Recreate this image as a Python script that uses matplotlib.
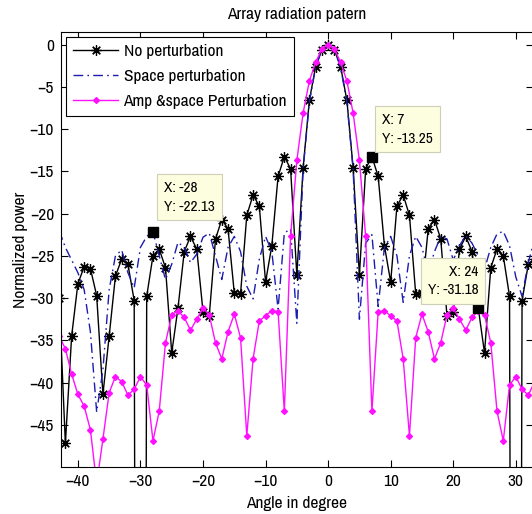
import matplotlib
matplotlib.use("Agg")
import matplotlib.pyplot as plt
from matplotlib import font_manager

# narrow font if one is installed, otherwise a slightly smaller Arial-like font
narrow = None
for f in font_manager.fontManager.ttflist:
    if ("Narrow" in f.name or "Condensed" in f.name) and "Mono" not in f.name:
        narrow = f.name
        break
if narrow:
    plt.rcParams['font.family'] = [narrow, 'Liberation Sans', 'DejaVu Sans']
    FS, TIPFS = 12.5, 11
else:
    plt.rcParams['font.family'] = ['Liberation Sans', 'DejaVu Sans']
    FS, TIPFS = 11, 10

# angle samples (degree)
angles = list(range(-43, 34))

# No perturbation
no_pert = [-30.0, -47.2, -34.5, -28.3, -26.3, -26.5, -29.7, -41.4, -34.5, -27.4,
           -25.4, -26.0, -30.3, -300.0, -29.8, -25.0, -24.2, -26.4, -36.5, -31.18,
           -24.5, -22.7, -24.2, -31.6, -32.1, -23.0, -20.7, -21.8, -29.4, -29.5,
           -20.2, -17.8, -19.1, -28.1, -23.8, -15.6, -13.25, -14.7, -27.3, -14.6,
           -6.6, -2.6, -0.6, 0.0, -0.6, -2.6, -6.6, -14.6, -27.3, -14.7,
           -13.25, -15.6, -23.8, -28.1, -19.1, -17.8, -20.2, -29.5, -29.4, -21.8,
           -20.7, -23.0, -32.1, -31.6, -24.2, -22.7, -24.5, -31.18, -36.5, -26.4,
           -24.2, -25.0, -29.8, -300.0, -30.3, -26.0, -25.4]

# Space perturbation
space_pert = [-22.0, -24.0, -25.5, -27.0, -29.0, -34.0, -43.5, -38.5, -29.0, -25.0,
              -24.3, -27.0, -28.8, -24.0, -22.7, -22.13, -25.0, -27.8, -26.0, -23.4,
              -24.0, -25.8, -24.8, -22.8, -22.3, -25.0, -27.8, -24.0, -22.7, -24.5,
              -28.6, -30.1, -25.4, -22.7, -24.5, -31.3, -22.3, -21.8, -33.0, -14.8,
              -6.8, -2.7, -0.6, 0.0, -0.6, -2.7, -6.8, -14.8, -32.5, -23.5,
              -22.5, -31.0, -24.0, -22.7, -25.0, -30.5, -25.0, -22.7, -24.0, -27.0,
              -24.5, -22.7, -23.0, -25.5, -23.8, -22.6, -23.5, -25.0, -26.6, -24.0,
              -22.4, -22.1, -23.8, -27.5, -29.8, -25.8, -23.0]

# Amp & space perturbation
amp_space_pert = [-34.5, -36.0, -39.0, -41.4, -42.8, -45.6, -52.0, -46.7, -41.2, -39.3,
                  -39.9, -41.5, -40.8, -39.3, -40.3, -46.9, -43.4, -35.3, -32.0, -31.5,
                  -32.3, -33.8, -32.5, -31.2, -32.0, -35.3, -37.2, -34.0, -31.9, -34.7,
                  -46.3, -37.2, -32.7, -32.1, -31.5, -31.6, -43.4, -22.7, -13.7, -8.1,
                  -4.3, -2.1, -0.5, 0.0, -0.5, -2.1, -4.3, -8.1, -13.7, -22.7,
                  -43.4, -31.6, -31.5, -32.1, -32.7, -37.2, -46.3, -34.7, -31.9, -34.0,
                  -37.2, -35.3, -32.0, -31.2, -32.5, -33.8, -32.3, -31.5, -32.0, -35.3,
                  -43.4, -46.9, -40.3, -39.3, -40.8, -41.5, -39.9]

# data tips: (series, angle)
tips = [("space", -28), ("none", 7), ("none", 24)]

xticks = [-40, -30, -20, -10, 0, 10, 20, 30]
yticks = [0, -5, -10, -15, -20, -25, -30, -35, -40, -45]

fig = plt.figure(figsize=(5.32, 5.14), dpi=100)
ax = fig.add_axes([61 / 532, 47 / 514, 472 / 532, 435 / 514])

ax.plot(angles, no_pert, color="black", lw=1.0, marker=(8, 2, 0), ms=7.5,
        mew=0.9, label="No perturbation")
ax.plot(angles, space_pert, color="#1c1cb0", lw=1.0, ls=(0, (7, 3, 1.2, 3)),
        label="Space perturbation")
ax.plot(angles, amp_space_pert, color="#ff10ff", lw=1.0, marker="D", ms=3,
        mec="#ff10ff", label="Amp &space Perturbation")

series = {"none": no_pert, "space": space_pert}
tip_offsets = [(11, 18, "left"), (10, 11, "left"), (0, 11, "right")]
for (name, a), (dx, dy, ha) in zip(tips, tip_offsets):
    val = series[name][angles.index(a)]
    ax.plot([a], [val], marker="s", color="black", ms=6.5, zorder=6)
    ax.annotate(f"X: {a}\nY: {val:.4g}", xy=(a, val), xytext=(dx, dy),
                textcoords="offset pixels", ha=ha, va="bottom", fontsize=TIPFS,
                multialignment=ha, zorder=7, linespacing=1.4,
                bbox=dict(boxstyle="square,pad=0.45", facecolor="#fdfde0",
                          edgecolor="#cfcfb8", lw=0.8))

ax.set_xlim(-42.7, 32.75)
ax.set_ylim(-50, 1.5)
ax.set_xticks(xticks)
ax.set_yticks(yticks)
ax.tick_params(direction="in", top=True, right=True, length=5, width=0.8,
               labelsize=FS)
ax.tick_params(axis="y", pad=5)
ax.tick_params(axis="x", pad=5)
for spine in ax.spines.values():
    spine.set_linewidth(0.8)

ax.set_title("Array radiation patern", fontsize=FS, pad=9)
ax.set_xlabel("Angle in degree", fontsize=FS, labelpad=5)
ax.set_ylabel("Normalized power", fontsize=FS, labelpad=1)

leg = ax.legend(loc="upper left", fontsize=FS, handlelength=2.6,
                borderaxespad=0.3, labelspacing=0.55, handletextpad=0.3,
                fancybox=False, framealpha=1, borderpad=0.4)
leg.get_frame().set_edgecolor("black")
leg.get_frame().set_linewidth(0.8)

fig.savefig("out.png", dpi=100)
